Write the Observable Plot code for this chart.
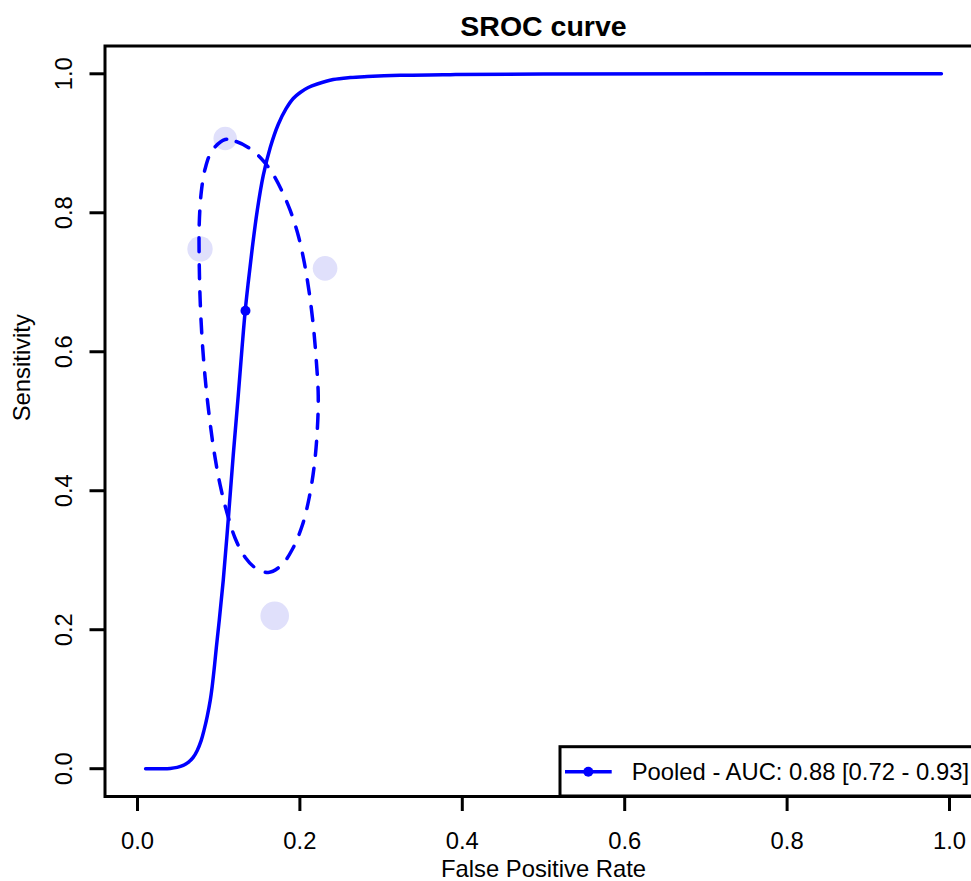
<!DOCTYPE html>
<html>
<head>
<meta charset="utf-8">
<script src="https://cdn.jsdelivr.net/npm/d3@7"></script>
<script src="https://cdn.jsdelivr.net/npm/@observablehq/plot@0.6"></script>
<style>
  html, body { margin: 0; padding: 0; background: #fff; overflow: hidden; }
  #wrap { position: relative; width: 971px; height: 881px; overflow: hidden; }
  #wrap svg { display: block; }
</style>
</head>
<body>
<div id="wrap"></div>
<script>
// ---- data ----
const chartTitle = "SROC curve";
const xLabel = "False Positive Rate";
const yLabel = "Sensitivity";
const legendLabel = "Pooled - AUC: 0.88 [0.72 - 0.93]";

const xTicks = [0, 0.2, 0.4, 0.6, 0.8, 1.0];
const yTicks = [0, 0.2, 0.4, 0.6, 0.8, 1.0];

// SROC curve
const curveFPR  = [0.010, 0.028, 0.0403, 0.0489, 0.0563, 0.0625, 0.0686, 0.0736, 0.0785, 0.0822, 0.0859, 0.0896, 0.0920, 0.0945, 0.0970, 0.1007, 0.1056, 0.1117, 0.1179, 0.1241, 0.1290, 0.1327, 0.1364, 0.1413, 0.1475, 0.1549, 0.1635, 0.1733, 0.1832, 0.1918, 0.2004, 0.2103, 0.2214, 0.2411, 0.2620, 0.2830, 0.3236, 0.3852, 0.5000, 0.9900];
const curveSens = [0.000, 0.000, 0.0004, 0.0019, 0.0047, 0.0091, 0.0163, 0.0263, 0.0407, 0.0565, 0.0753, 0.0983, 0.1184, 0.1443, 0.1731, 0.2134, 0.2709, 0.3573, 0.4508, 0.5371, 0.6091, 0.6594, 0.6997, 0.7486, 0.8033, 0.8537, 0.8940, 0.9271, 0.9501, 0.9645, 0.9731, 0.9803, 0.9853, 0.9918, 0.9947, 0.9961, 0.9978, 0.9988, 0.9997, 1.0000];

// confidence region (dashed, closed)
const ellipseFPR  = [0.1080, 0.1216, 0.1364, 0.1512, 0.1648, 0.1770, 0.1881, 0.1980, 0.2054, 0.2115, 0.2165, 0.2202, 0.2226, 0.2214, 0.2177, 0.2115, 0.2029, 0.1906, 0.1770, 0.1610, 0.1462, 0.1327, 0.1204, 0.1105, 0.1019, 0.0945, 0.0883, 0.0834, 0.0797, 0.0772, 0.0760, 0.0760, 0.0785, 0.0834, 0.0920];
const ellipseSens = [0.9055, 0.9026, 0.8940, 0.8796, 0.8594, 0.8335, 0.8033, 0.7673, 0.7285, 0.6853, 0.6378, 0.5874, 0.5371, 0.4867, 0.4363, 0.3903, 0.3499, 0.3154, 0.2924, 0.2824, 0.2881, 0.3040, 0.3313, 0.3673, 0.4076, 0.4551, 0.5083, 0.5616, 0.6163, 0.6738, 0.7314, 0.7817, 0.8292, 0.8637, 0.8896];

// individual studies
const studyFPR    = [0.108, 0.077, 0.231, 0.169];
const studySens   = [0.907, 0.748, 0.720, 0.220];
const studyWeight = [0.67, 0.79, 0.74, 1.00];

// pooled estimate
const pooledFPR  = [0.133];
const pooledSens = [0.659];

// ---- build tables ----
const curve   = curveFPR.map((x, i) => ({x, y: curveSens[i]}));
const ellipse = ellipseFPR.map((x, i) => ({x, y: ellipseSens[i]}));
const studies = studyFPR.map((x, i) => ({x, y: studySens[i], w: studyWeight[i]}));
const pooled  = pooledFPR.map((x, i) => ({x, y: pooledSens[i]}));

const BLUE = "#0000ff";
const FONT = "'Liberation Sans', Arial, Helvetica, sans-serif";
const FS = 23.8;

const chart = Plot.plot({
  width: 971,
  height: 881,
  marginLeft: 104.5,
  marginRight: -10.5,
  marginTop: 45.5,
  marginBottom: 85,
  x: {domain: [-0.04, 1.04]},
  y: {domain: [-0.04, 1.04]},
  r: {type: "sqrt", domain: [0, 1], range: [0, 14.3]},
  style: {fontFamily: FONT, background: "#fff", color: "#000", overflow: "hidden"},
  marks: [
    Plot.dot(studies, {x: "x", y: "y", r: "w", fill: "#e0e0fb", stroke: "none"}),
    Plot.line(ellipse, {x: "x", y: "y", curve: "catmull-rom-closed", stroke: BLUE, strokeWidth: 3.5, strokeDasharray: "14,13", strokeLinecap: "round"}),
    Plot.line(curve, {x: "x", y: "y", curve: "catmull-rom", stroke: BLUE, strokeWidth: 3.5}),
    Plot.dot(pooled, {x: "x", y: "y", r: 5, fill: BLUE, stroke: "none"}),
    Plot.frame({stroke: "#000", strokeWidth: 3}),
    Plot.axisX(xTicks, {tickSize: 15, tickPadding: 20.1, fontSize: FS, strokeWidth: 3, tickFormat: d => d.toFixed(1), label: null}),
    Plot.axisY(yTicks, {tickSize: 15, tickPadding: 18, tickRotate: -90, fontSize: FS, strokeWidth: 3, tickFormat: d => d.toFixed(1), label: null}),
    Plot.text([xLabel], {frameAnchor: "bottom", dy: 80, lineAnchor: "bottom", fontSize: FS, fill: "#000"}),
    Plot.text([yLabel], {frameAnchor: "left", dx: -75, rotate: -90, lineAnchor: "bottom", fontSize: FS, fill: "#000"}),
    Plot.text([chartTitle], {frameAnchor: "top", dy: -10.5, lineAnchor: "bottom", fontSize: 28.5, fontWeight: "bold", fill: "#000"})
  ]
});

const wrap = document.getElementById("wrap");
wrap.appendChild(chart);

// ---- legend (R "bottomright" style box) ----
const leg = d3.select(wrap).append("svg")
  .attr("width", 971).attr("height", 881)
  .style("position", "absolute").style("left", "0px").style("top", "0px")
  .style("pointer-events", "none");
const g = leg.append("g");
g.append("rect").attr("x", 560).attr("y", 746.7).attr("width", 500).attr("height", 49.3)
  .attr("fill", "#fff").attr("stroke", "#000").attr("stroke-width", 3);
g.append("line").attr("x1", 565).attr("x2", 611.7).attr("y1", 771.7).attr("y2", 771.7)
  .attr("stroke", BLUE).attr("stroke-width", 3.5);
g.append("circle").attr("cx", 588.3).attr("cy", 771.7).attr("r", 5).attr("fill", BLUE);
g.append("text").attr("x", 631.7).attr("y", 780).attr("font-size", FS)
  .attr("font-family", FONT).attr("fill", "#000").text(legendLabel);
</script>
</body>
</html>
